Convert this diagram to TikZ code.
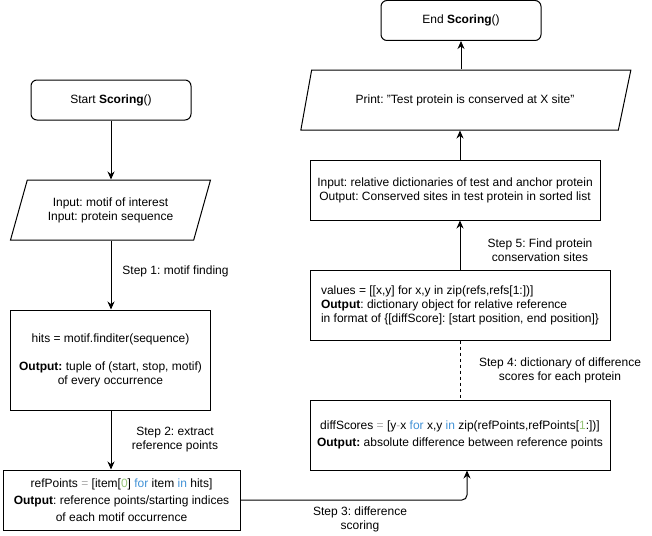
\documentclass[tikz,border=0pt]{standalone}
\usepackage{fontspec}
\setmainfont{Liberation Sans}
\frenchspacing
\usetikzlibrary{shapes.geometric,arrows.meta}
\definecolor{codekw}{RGB}{66,146,214}
\definecolor{codenum}{RGB}{150,196,120}
\definecolor{codeop}{RGB}{170,170,170}
\tikzset{
    every node/.style = {font = \fontsize{12}{14}\selectfont},
    term/.style = {draw, line width = 1pt, rounded corners = 6pt, minimum width = 160pt, minimum height = 40pt},
    proc/.style = {draw, line width = 1pt, align = center, inner sep = 0pt},
    io/.style = {draw, line width = 1pt, trapezium, trapezium stretches body, align = center, inner sep = 0pt, minimum height = 60pt},
    lbl/.style = {align = center, inner sep = 0pt},
    arr/.style = {line width = 1pt, -{Stealth[length = 8pt, width = 7pt]}},
    wide/.style = {font = \fontsize{12}{17}\selectfont}
}
\begin{document}
\begin{tikzpicture}[x = 1pt, y = -1pt]
    \useasboundingbox (0,0) rectangle (652,535);
    \begin{scope}
        \node[term] (startb) at (111,100) {Start \textbf{Scoring}()};
        \node[io, trapezium left angle = 56.3, trapezium right angle = 123.7, minimum width = 200pt] (inp) at (110.5,210) {Input: motif of interest\\Input: protein sequence};
        \node[proc, minimum width = 200pt, minimum height = 100pt] (hits) at (110.5,360) {hits = motif.finditer(sequence)\\[14pt]\textbf{Output:} tuple of (start, stop, motif)\\of every occurrence};
        \node[proc, wide, minimum width = 237pt, minimum height = 60pt] (refpts) at (121.5,500) {refPoints \textcolor{codeop}{=} [item[\textcolor{codenum}{0}] \textcolor{codekw}{for} item \textcolor{codekw}{in} hits]\\\textbf{Output}: reference points/starting indices\\of each motif occurrence};
    \end{scope}
    \begin{scope}
        \node[proc, wide, minimum width = 300pt, minimum height = 70pt] (diff) at (460,435) {diffScores \textcolor{codeop}{=} [y\textcolor{codeop}{-}x \textcolor{codekw}{for} x,y \textcolor{codekw}{in} zip(refPoints,refPoints[\textcolor{codenum}{1}:])]\\\textbf{Output:} absolute difference between reference points};
        \node[proc, align = left, minimum width = 300pt, minimum height = 70pt] (vals) at (460,305) {values = [[x,y] for x,y in zip(refs,refs[1:])]\\\textbf{Output}: dictionary object for relative reference\\in format of \{[diffScore]: [start position, end position]\}};
        \node[proc, minimum width = 290pt, minimum height = 60pt] (cons) at (455,190) {Input: relative dictionaries of test and anchor protein\\Output: Conserved sites in test protein in sorted list};
        \node[io, trapezium left angle = 46, trapezium right angle = 138.2, minimum width = 330pt] (prnt) at (465,100) {Print: \char34 Test protein is conserved at X site\char34};
        \node[term] (endb) at (461,20.5) {End \textbf{Scoring}()};
    \end{scope}
    \node[lbl] (s1) at (175.5,271) {Step 1: motif finding};
    \node[lbl] (s2) at (175,440) {Step 2: extract\\reference points};
    \node[lbl] (s3) at (360,519) {Step 3: difference\\scoring};
    \node[lbl] (s4) at (560,370) {Step 4: dictionary of difference\\scores for each protein};
    \node[lbl] (s5) at (540,250) {Step 5: Find protein\\conservation sites};
    \draw[arr] (startb.south) -- (startb.south |- inp.north);
    \draw[arr] (startb.south |- inp.south) -- (startb.south |- hits.north);
    \draw[arr] (startb.south |- hits.south) -- (startb.south |- refpts.north);
    \draw[arr, rounded corners = 5pt] (refpts.east) -| ([xshift = 7pt]diff.south);
    \draw[line width = 1pt, dash pattern = on 3pt off 3pt] (vals.south) -- (diff.north);
    \draw[arr] (vals.north) -- (vals.north |- cons.south);
    \draw[arr] (vals.north |- cons.north) -- (vals.north |- prnt.south);
    \draw[arr] (endb.south |- prnt.north) -- (endb.south);
\end{tikzpicture}
\end{document}
